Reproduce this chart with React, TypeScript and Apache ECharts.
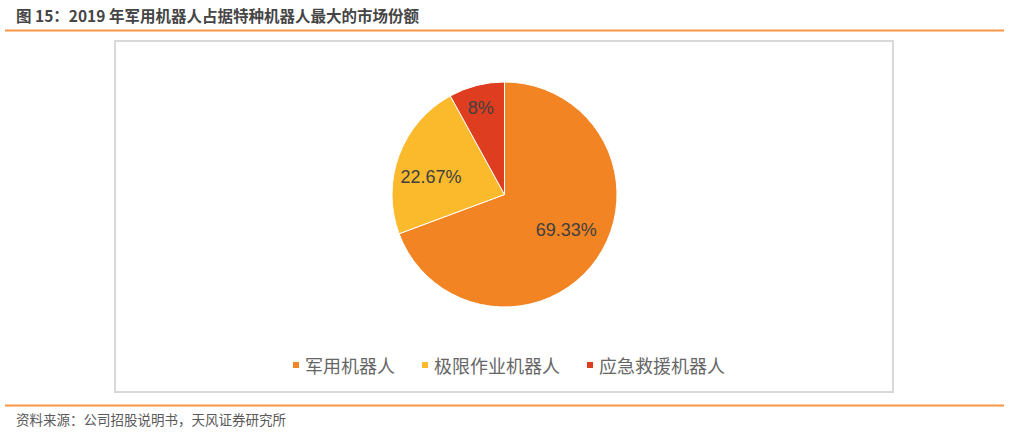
import React, { useEffect, useRef } from "react";
import * as echarts from "echarts";

const categories = ["军用机器人", "极限作业机器人", "应急救援机器人"];
const shares = [69.33, 22.67, 8];
const colors = ["#F28423", "#FBBA2B", "#DE3E1F"];
const titleText = "图 15：2019 年军用机器人占据特种机器人最大的市场份额";
const sourceText = "资料来源：公司招股说明书，天风证券研究所";
const labelShift = [
  [13, 2],
  [-18, 3],
  [-9, -29],
];

export default function App() {
  const ref = useRef<HTMLDivElement>(null);
  useEffect(() => {
    if (!ref.current) return;
    const chart = echarts.init(ref.current, null, { renderer: "svg" });
    const cjk = '"Noto Sans CJK SC", "Microsoft YaHei", sans-serif';
    chart.setOption({
      animation: false,
      backgroundColor: "#ffffff",
      title: {
        text: titleText,
        left: 11,
        top: 2,
        textStyle: { fontFamily: cjk, fontSize: 15.5, fontWeight: "bold", color: "#454545" },
      },
      legend: {
        data: categories,
        left: 286,
        top: 351,
        icon: "rect",
        itemWidth: 8,
        itemHeight: 8,
        itemGap: 25,
        textStyle: { fontFamily: cjk, fontSize: 18, color: "#666666" },
      },
      graphic: [
        {
          type: "line",
          shape: { x1: 5, y1: 30.5, x2: 1004, y2: 30.5 },
          style: { stroke: "#F79646", lineWidth: 2 },
        },
        {
          type: "rect",
          shape: { x: 115, y: 41, width: 778, height: 351 },
          style: { fill: "none", stroke: "#D9D9D9", lineWidth: 2 },
          z: -1,
        },
        {
          type: "line",
          shape: { x1: 5, y1: 405.5, x2: 1004, y2: 405.5 },
          style: { stroke: "#F79646", lineWidth: 2 },
        },
        {
          type: "text",
          x: 16,
          y: 419,
          style: {
            text: sourceText,
            font: `13.5px ${cjk}`,
            fill: "#595959",
            verticalAlign: "middle",
          },
        },
      ],
      series: [
        {
          type: "pie",
          center: [504.5, 194.5],
          radius: 112.5,
          startAngle: 90,
          clockwise: true,
          itemStyle: { borderColor: "#ffffff", borderWidth: 1 },
          label: {
            show: true,
            position: "inside",
            formatter: "{c}%",
            fontFamily: "Arial, 'Liberation Sans', sans-serif",
            fontSize: 18,
            color: "#404040",
          },
          labelLayout: (p: any) => ({
            dx: labelShift[p.dataIndex][0],
            dy: labelShift[p.dataIndex][1],
          }),
          emphasis: { disabled: true },
          data: categories.map((name, i) => ({
            name,
            value: shares[i],
            itemStyle: { color: colors[i] },
          })),
        },
      ],
    });
    return () => chart.dispose();
  }, []);
  return (
    <div
      ref={ref}
      style={{ position: "fixed", left: 0, top: 0, width: 1010, height: 434 }}
    />
  );
}
